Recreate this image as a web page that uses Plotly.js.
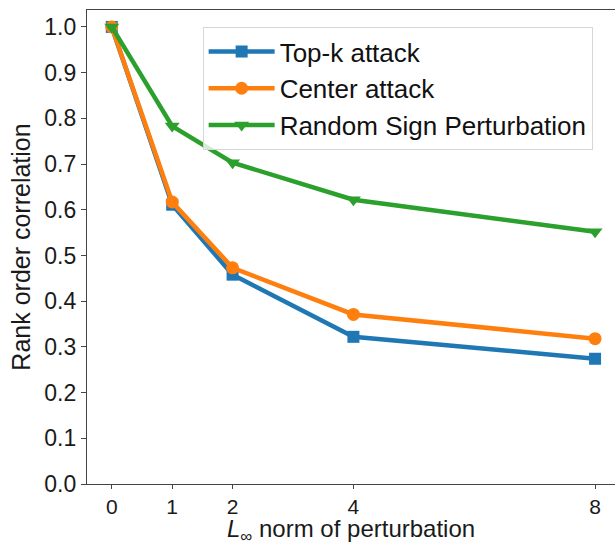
<!DOCTYPE html>
<html><head><meta charset="utf-8">
<script src="https://cdn.plot.ly/plotly-3.0.1.min.js"></script>
<style>html,body{margin:0;padding:0;background:#fff}#chart{width:615px;height:544px}</style>
</head><body><div id="chart"></div>
<script>
const xValues = [0, 1, 2, 4, 8];
const topK = [1.0, 0.611, 0.458, 0.322, 0.274];
const center = [1.0, 0.617, 0.473, 0.371, 0.318];
const randomSign = [1.0, 0.783, 0.703, 0.622, 0.552];
const seriesNames = ["Top-k attack", "Center attack", "Random Sign Perturbation"];
const yTicks = [0,0.1,0.2,0.3,0.4,0.5,0.6,0.7,0.8,0.9,1.0];
const xTitle = "<i>L</i><sub>∞</sub> norm of perturbation";
const yTitle = "Rank order correlation";

const font = {family: "Liberation Sans, Arial, sans-serif", color: "#1a1a1a", size: 24};
const traces = [
  {x: xValues, y: topK, name: seriesNames[0], mode: "lines+markers",
   line: {color: "#1f77b4", width: 4.5}, marker: {symbol: "square", size: 12, color: "#1f77b4"}},
  {x: xValues, y: center, name: seriesNames[1], mode: "lines+markers",
   line: {color: "#ff7f0e", width: 4.5}, marker: {symbol: "circle", size: 13, color: "#ff7f0e"}},
  {x: xValues, y: randomSign, name: seriesNames[2], mode: "lines+markers",
   line: {color: "#2ca02c", width: 4.5}, marker: {symbol: "triangle-down", size: 13, color: "#2ca02c"}}
];
const layout = {
  width: 615, height: 544,
  margin: {l: 87, r: 0, t: 10, b: 60},
  paper_bgcolor: "#fff", plot_bgcolor: "#fff",
  font: font,
  showlegend: true,
  legend: {x: 0.219, y: 0.964, xanchor: "left", yanchor: "top",
           bordercolor: "#d6d6d6", borderwidth: 1, bgcolor: "rgba(255,255,255,0.8)",
           font: {size: 26, family: font.family, color: "#111"}, tracegroupgap: 0, itemwidth: 66},
  xaxis: {range: [-0.41, 8.33], tickvals: xValues, ticktext: xValues.map(String),
          showgrid: false, zeroline: false, showline: true, linecolor: "#444", linewidth: 1.2, mirror: true,
          ticks: "outside", ticklen: 4, tickcolor: "#444", tickfont: {size: 21}},
  yaxis: {range: [0, 1.037], tickvals: yTicks, ticktext: yTicks.map(v => v.toFixed(1)),
          showgrid: false, zeroline: false, showline: true, linecolor: "#444", linewidth: 1.2,
          ticks: "outside", ticklen: 5, tickcolor: "#444", tickfont: {size: 23},
          title: {text: yTitle, font: {size: 25}, standoff: 6}},
  annotations: [{text: xTitle, xref: "paper", yref: "paper", x: 0.5, y: -0.099,
                 xanchor: "center", yanchor: "middle", showarrow: false,
                 font: {size: 24, family: font.family, color: "#1a1a1a"}}]
};
Plotly.newPlot("chart", traces, layout, {displayModeBar: false, staticPlot: true});
</script></body></html>
